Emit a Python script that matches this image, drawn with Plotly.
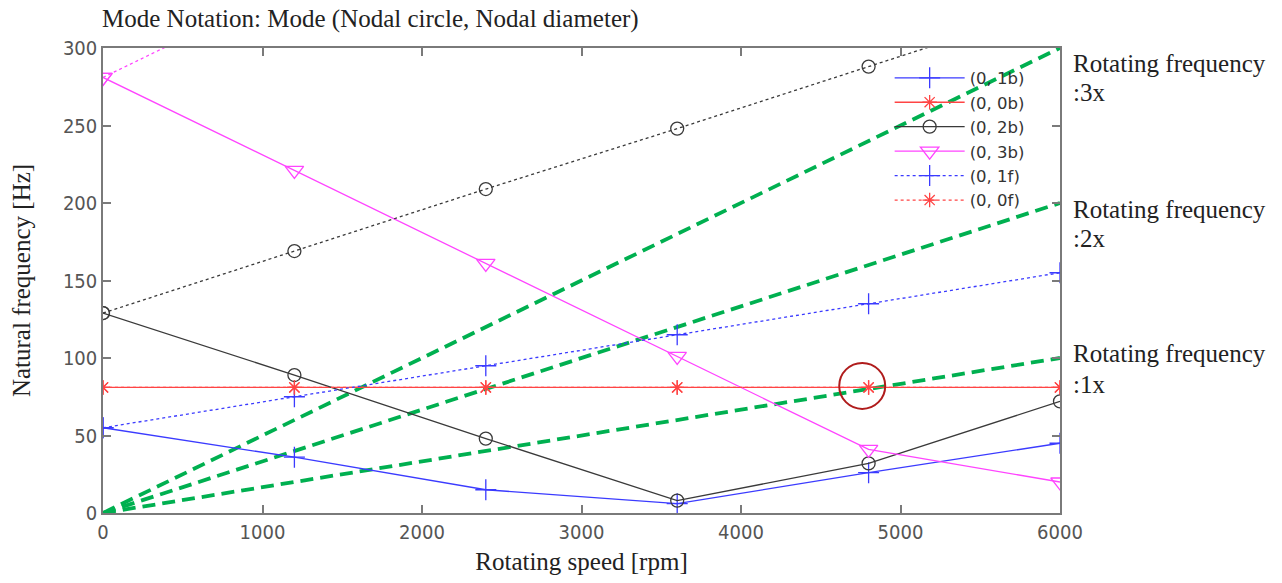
import plotly.graph_objects as go

rpm = [0, 1200, 2400, 3600, 4800, 6000]
f_1b = [55, 36, 15, 6, 26, 45]
f_0b = [81, 81, 81, 81, 81, 81]
f_2b = [129, 89, 48, 8, 32, 72]
f_3b = [281, 221, 161, 101, 41, 20]
f_1f = [55, 75, 95, 115, 135, 155]
f_0f = [81, 81, 81, 81, 81, 81]
f_2f = [129, 169, 209, 248, 288, 328]
rpm_3f = [0, 1200]
f_3f = [281, 341]

rot_rpm = [0, 6000]
rot_1x = [0, 100]
rot_2x = [0, 200]
rot_3x = [0, 300]

BLUE = "#3b3bff"
RED = "#ff4444"
BLACK = "#3a3a3a"
MAG = "#ff44ff"
GREEN = "#00b050"

fig = go.Figure()

def add(x, y, name, color, dash, symbol, size, show=True):
    fig.add_trace(go.Scatter(
        x=x, y=y, name=name, mode="lines+markers", showlegend=show,
        line=dict(color=color, width=1.3, dash=dash),
        marker=dict(symbol=symbol, size=size, color=color,
                    line=dict(color=color, width=1.3)),
    ))

for yy in (rot_1x, rot_2x, rot_3x):
    fig.add_trace(go.Scatter(x=rot_rpm, y=yy, mode="lines", showlegend=False,
                             line=dict(color=GREEN, width=3.8, dash="13px,7px")))

add(rpm_3f, f_3f, "(0, 3f)", MAG, "dot", "triangle-down-open", 16, show=False)
add(rpm, f_1b, "(0, 1b)", BLUE, "solid", "cross-thin-open", 15)
add(rpm, f_0b, "(0, 0b)", RED, "solid", "asterisk-open", 12)
add(rpm, f_2b, "(0, 2b)", BLACK, "solid", "circle-open", 13)
add(rpm, f_3b, "(0, 3b)", MAG, "solid", "triangle-down-open", 16)
add(rpm, f_1f, "(0, 1f)", BLUE, "dot", "cross-thin-open", 15)
add(rpm, f_0f, "(0, 0f)", RED, "dot", "asterisk-open", 12)
add(rpm, f_2f, "(0, 2f)", BLACK, "dot", "circle-open", 13, show=False)

fig.add_shape(type="circle", xref="x", yref="y", xsizemode="pixel", ysizemode="pixel",
              xanchor=4760, yanchor=82, x0=-23, x1=23, y0=-23, y1=23,
              line=dict(color="#b01c1c", width=2))

serif = "Liberation Serif"
TXT = "#222"
fig.add_annotation(text="Mode Notation: Mode (Nodal circle, Nodal diameter)",
                   xref="paper", yref="paper", x=-0.003, y=1.0, xanchor="left", yanchor="middle",
                   yshift=29, showarrow=False, font=dict(family=serif, size=25, color=TXT))

side_labels = [("Rotating frequency", 290), (":3x", 271),
               ("Rotating frequency", 196), (":2x", 177),
               ("Rotating frequency", 103), (":1x", 83)]
for txt, yv in side_labels:
    fig.add_annotation(text=txt, xref="paper", yref="y", x=1.0, y=yv,
                       xanchor="left", yanchor="middle", xshift=11, showarrow=False,
                       font=dict(family=serif, size=25, color=TXT))

tickfont = dict(family="Liberation Sans Narrow, DejaVu Sans Condensed, DejaVu Sans", size=20, color="#555")
axis_common = dict(showline=True, linecolor="#7a7a7a", linewidth=1.5, mirror="ticks",
                   ticks="inside", ticklen=8, tickcolor="#7a7a7a", tickwidth=1.5,
                   showgrid=False, zeroline=False, tickfont=tickfont)

fig.update_xaxes(range=[0, 6000], dtick=1000, title=dict(text="Rotating speed [rpm]",
                 font=dict(family=serif, size=25, color=TXT), standoff=10), **axis_common)
fig.update_yaxes(range=[0, 300], dtick=50, title=dict(text="Natural frequency [Hz]",
                 font=dict(family=serif, size=25, color=TXT), standoff=25), **axis_common)

fig.update_layout(
    width=1282, height=583,
    margin=dict(l=103, r=222, t=48, b=70, autoexpand=False),
    plot_bgcolor="white", paper_bgcolor="white",
    legend=dict(x=0.822, y=0.973, xanchor="left", yanchor="top", bgcolor="rgba(0,0,0,0)",
                itemwidth=70, font=dict(family="DejaVu Sans", size=16.5, color="#333"),
                tracegroupgap=0),
)

fig.write_html("out.html", config={"displayModeBar": False},
               post_script="document.body.style.margin='0';document.body.style.overflow='hidden';")
